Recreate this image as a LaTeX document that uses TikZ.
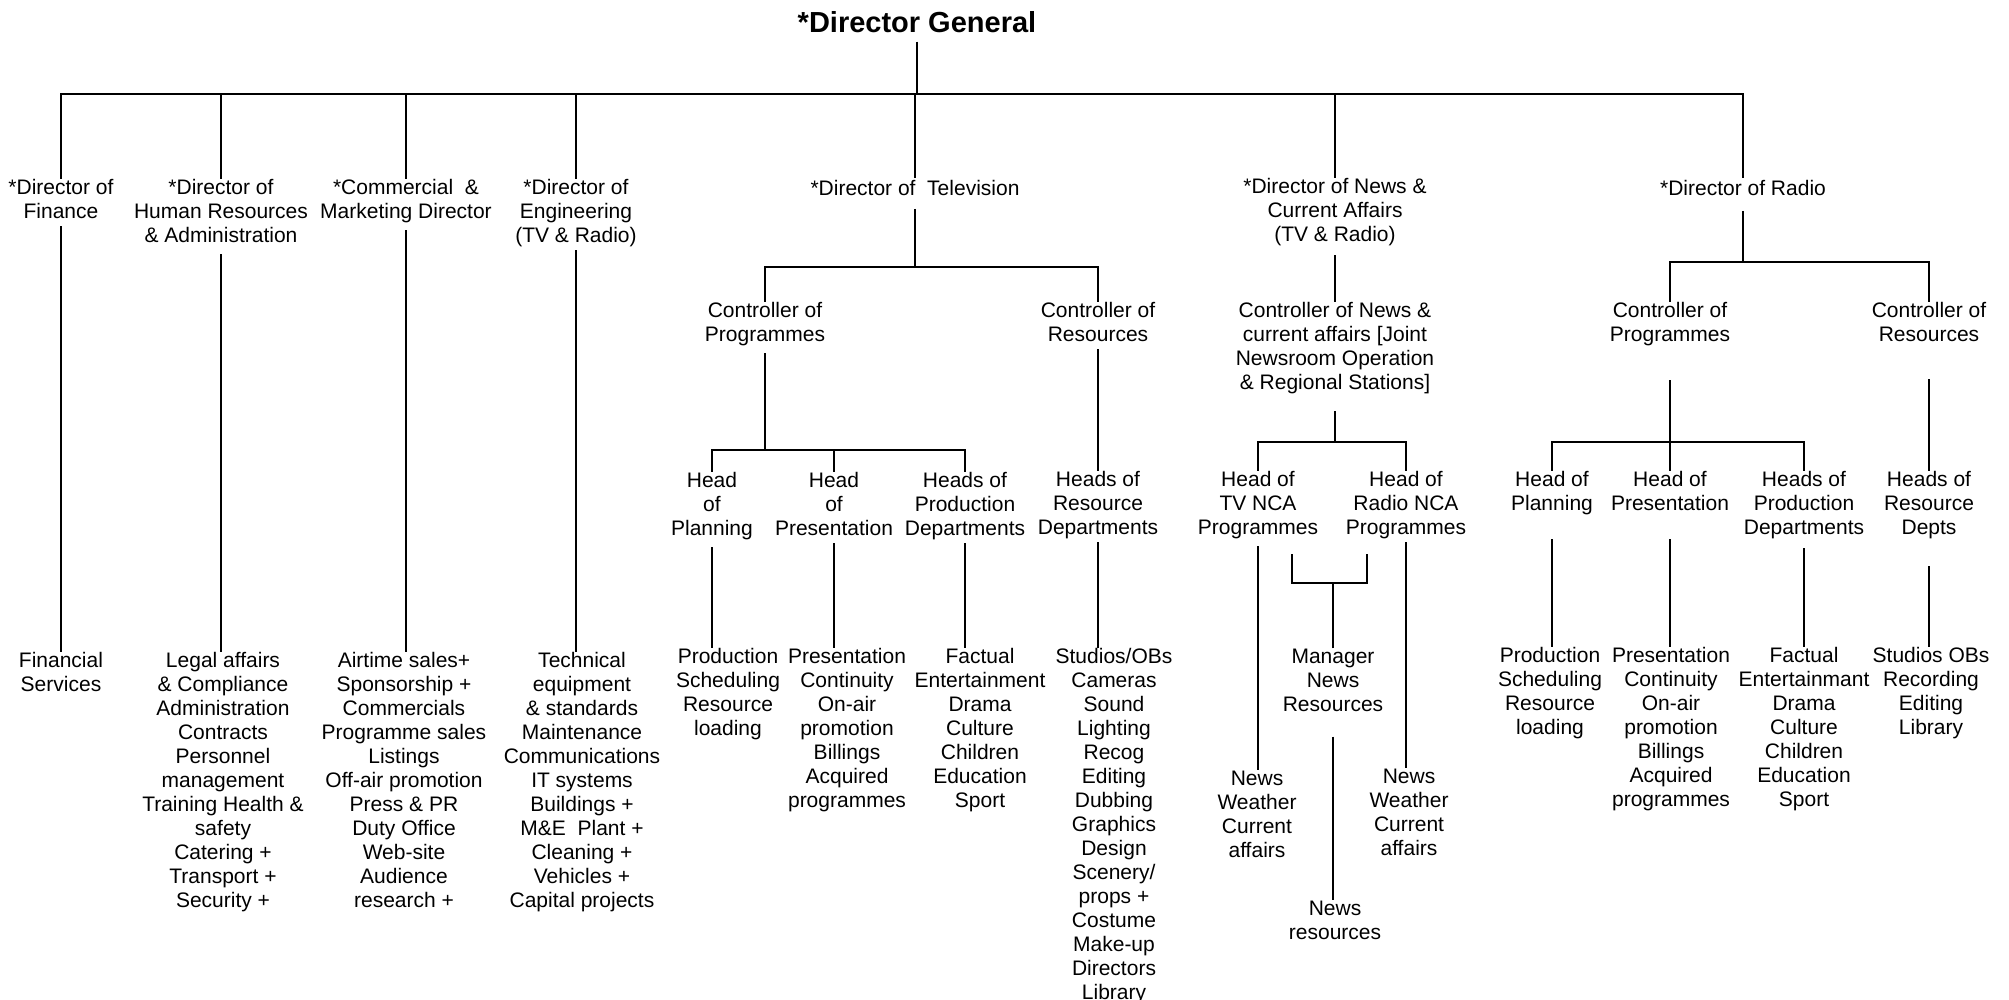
\documentclass[tikz,border=0pt]{standalone}
\usepackage{fontspec}
\setmainfont{Liberation Sans}
\begin{document}
\begin{tikzpicture}[x=0.5pt,y=-0.5pt]
\tikzset{
  lbl/.style={font=\fontsize{10.5}{12}\selectfont, align=center, inner sep=0pt, yshift=-1.25pt,
    execute at begin node=\strut, execute at end node=\strut},
  ttl/.style={font=\fontsize{14.5}{17}\selectfont\bfseries, inner sep=0pt, anchor=base},
  conn/.style={line width=1.4pt, draw=black}
}
\useasboundingbox (0,0) rectangle (2009,1000);

% levels
\coordinate (mainbar) at (0,94);
\coordinate (tvbar) at (0,267);
\coordinate (tvhbar) at (0,450);
\coordinate (newsbar) at (0,442);
\coordinate (radbar) at (0,262);
\coordinate (radhbar) at (0,442);
\coordinate (bky) at (0,583);
\coordinate (bkl) at (1292,554);
\coordinate (bkr) at (1367,554);

% title
\node[ttl] (dg) at (917,33) {*Director General};

% directors
\node[lbl] (fin) at (61,200) {*Director of\\Finance};
\node[lbl] (hr) at (221,212) {*Director of\\Human Resources\\\& Administration};
\node[lbl] (com) at (406,200) {*Commercial\ \ \&\\Marketing Director};
\node[lbl] (eng) at (576,212) {*Director of\\Engineering\\(TV \& Radio)};
\node[lbl] (tv) at (915,188) {*Director of\ \ Television};
\node[lbl] (news) at (1335,211) {*Director of News \&\\Current Affairs\\(TV \& Radio)};
\node[lbl] (rad) at (1743,188) {*Director of Radio};

% left leaves
\node[lbl] (fs) at (61,673) {Financial\\Services};
\node[lbl] (hrl) at (223,781) {Legal affairs\\\& Compliance\\Administration\\Contracts\\Personnel\\management\\Training Health \&\\safety\\Catering +\\Transport +\\Security +};
\node[lbl] (coml) at (404,781) {Airtime sales+\\Sponsorship +\\Commercials\\Programme sales\\Listings\\Off-air promotion\\Press \& PR\\Duty Office\\Web-site\\Audience\\research +};
\node[lbl] (engl) at (582,781) {Technical\\equipment\\\& standards\\Maintenance\\Communications\\IT systems\\Buildings +\\M\&E\ \ Plant +\\Cleaning +\\Vehicles +\\Capital projects};

% television
\node[lbl] (tcp) at (765,323) {Controller of\\Programmes};
\node[lbl] (tcr) at (1098,323) {Controller of\\Resources};
\node[lbl] (thp) at (712,505) {Head\\of\\Planning};
\node[lbl] (thpr) at (834,505) {Head\\of\\Presentation};
\node[lbl] (thpd) at (965,505) {Heads of\\Production\\Departments};
\node[lbl] (thrd) at (1098,504) {Heads of\\Resource\\Departments};
\node[lbl] (tl1) at (728,693) {Production\\Scheduling\\Resource\\loading};
\node[lbl] (tl2) at (847,729) {Presentation\\Continuity\\On-air\\promotion\\Billings\\Acquired\\programmes};
\node[lbl] (tl3) at (980,729) {Factual\\Entertainment\\Drama\\Culture\\Children\\Education\\Sport};
\node[lbl] (tl4) at (1114,825) {Studios/OBs\\Cameras\\Sound\\Lighting\\Recog\\Editing\\Dubbing\\Graphics\\Design\\Scenery/\\props +\\Costume\\Make-up\\Directors\\Library};

% news
\node[lbl] (ncc) at (1335,347) {Controller of News \&\\current affairs [Joint\\Newsroom Operation\\\& Regional Stations]};
\node[lbl] (ntv) at (1258,504) {Head of\\TV NCA\\Programmes};
\node[lbl] (nrad) at (1406,504) {Head of\\Radio NCA\\Programmes};
\node[lbl] (ntvl) at (1257,815) {News\\Weather\\Current\\affairs};
\node[lbl] (nradl) at (1409,813) {News\\Weather\\Current\\affairs};
\node[lbl] (nman) at (1333,681) {Manager\\News\\Resources};
\node[lbl] (nres) at (1335,921) {News\\resources};

% radio
\node[lbl] (rcp) at (1670,323) {Controller of\\Programmes};
\node[lbl] (rcr) at (1929,323) {Controller of\\Resources};
\node[lbl] (rhp) at (1552,492) {Head of\\Planning};
\node[lbl] (rhpr) at (1670,492) {Head of\\Presentation};
\node[lbl] (rhpd) at (1804,504) {Heads of\\Production\\Departments};
\node[lbl] (rhrd) at (1929,504) {Heads of\\Resource\\Depts};
\node[lbl] (rl1) at (1550,692) {Production\\Scheduling\\Resource\\loading};
\node[lbl] (rl2) at (1671,728) {Presentation\\Continuity\\On-air\\promotion\\Billings\\Acquired\\programmes};
\node[lbl] (rl3) at (1804,728) {Factual\\Entertainmant\\Drama\\Culture\\Children\\Education\\Sport};
\node[lbl] (rl4) at (1931,692) {Studios OBs\\Recording\\Editing\\Library};

% main bar
\draw[conn, shorten <=4pt] (dg.south) -- (dg.south |- mainbar);
\draw[conn] (fin.north) |- (rad.north |- mainbar) -- (rad.north);
\draw[conn] (hr.north) -- (hr.north |- mainbar);
\draw[conn] (com.north) -- (com.north |- mainbar);
\draw[conn] (eng.north) -- (eng.north |- mainbar);
\draw[conn] (tv.north) -- (tv.north |- mainbar);
\draw[conn] (news.north) -- (news.north |- mainbar);

% left columns
\draw[conn] (fin.south) -- (fin.south |- fs.north);
\draw[conn, shorten <=2pt] (hr.south) -- (hr.south |- hrl.north);
\draw[conn, shorten <=2pt] (com.south) -- (com.south |- coml.north);
\draw[conn] (eng.south) -- (eng.south |- engl.north);

% television
\draw[conn, shorten <=3pt] (tv.south) -- (tv.south |- tvbar);
\draw[conn] (tcp.north) |- (tcr.north |- tvbar) -- (tcr.north);
\draw[conn, shorten <=2pt] (tcp.south) -- (tcp.south |- tvhbar);
\draw[conn] (thp.north) |- (thpd.north |- tvhbar) -- (thpd.north);
\draw[conn] (thpr.north) -- (thpr.north |- tvhbar);
\draw[conn] (tcr.south) -- (tcr.south |- thrd.north);
\draw[conn, shorten <=2pt] (thp.south) -- (thp.south |- tl1.north);
\draw[conn] (thpr.south) -- (thpr.south |- tl2.north);
\draw[conn] (thpd.south) -- (thpd.south |- tl3.north);
\draw[conn] (thrd.south) -- (thrd.south |- tl4.north);

% news
\draw[conn, shorten <=3pt] (news.south) -- (news.south |- ncc.north);
\draw[conn, shorten <=7pt] (ncc.south) -- (ncc.south |- newsbar);
\draw[conn] (ntv.north) |- (nrad.north |- newsbar) -- (nrad.north);
\draw[conn, shorten <=2pt] (ntv.south) -- (ntv.south |- ntvl.north);
\draw[conn] (nrad.south) -- (nrad.south |- nradl.north);
\draw[conn] (bkl) -- (bkl |- bky) -- (bkr |- bky) -- (bkr);
\draw[conn] (nman.north) -- (nman.north |- bky);
\draw[conn, shorten <=9pt] (nman.south) -- (nman.south |- nres.north);

% radio
\draw[conn, shorten <=4pt] (rad.south) -- (rad.south |- radbar);
\draw[conn] (rcp.north) |- (rcr.north |- radbar) -- (rcr.north);
\draw[conn, shorten <=15.5pt] (rcp.south) -- (rcp.south |- radhbar);
\draw[conn] (rhp.north) |- (rhpd.north |- radhbar) -- (rhpd.north);
\draw[conn] (rhpr.north) -- (rhpr.north |- radhbar);
\draw[conn, shorten <=15pt] (rcr.south) -- (rcr.south |- rhrd.north);
\draw[conn, shorten <=10.5pt] (rhp.south) -- (rhp.south |- rl1.north);
\draw[conn, shorten <=10.5pt] (rhpr.south) -- (rhpr.south |- rl2.north);
\draw[conn, shorten <=3pt] (rhpd.south) -- (rhpd.south |- rl3.north);
\draw[conn, shorten <=12pt] (rhrd.south) -- (rhrd.south |- rl4.north);
\end{tikzpicture}
\end{document}
